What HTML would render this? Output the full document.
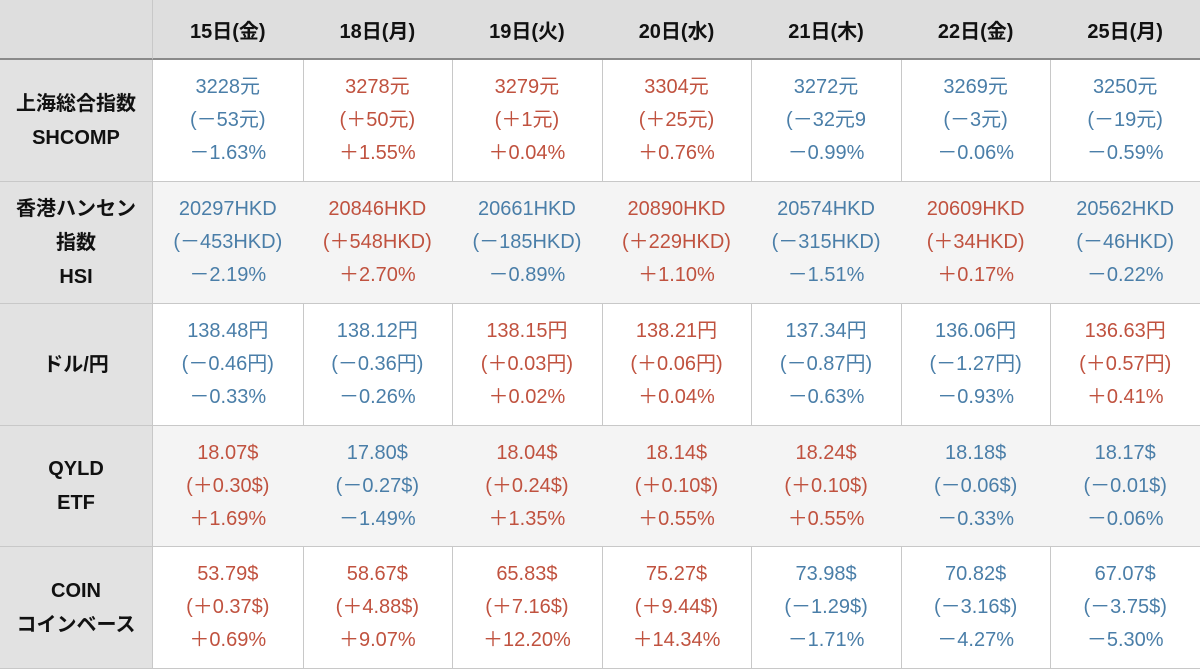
<!DOCTYPE html>
<html><head><meta charset="utf-8"><style>
body{margin:0;width:1200px;height:670px;background:#fff;overflow:hidden;font-family:"Liberation Sans","Noto Sans CJK JP",sans-serif}
#t{position:absolute;left:0;top:0;width:1200px;height:670px}
.c{position:absolute;box-sizing:border-box;border-right:1px solid #c8c8c8;border-bottom:1px solid #c8c8c8;display:flex;flex-direction:column;align-items:center;justify-content:center;text-align:center}
.h{background:#dedede;font-weight:bold;font-size:20px;color:#111;border-bottom:2px solid #8a8a8a}
.l{background:#e2e2e2;font-weight:bold;font-size:20px;color:#111;line-height:34px}
.d{font-size:20px;line-height:33px}
.alt{background:#f4f4f4}
.u{color:#4a7ea8}.r{color:#c0523f}
</style></head><body>
<div id="t"></div>
<script>
const dates=["15日(金)","18日(月)","19日(火)","20日(水)","21日(木)","22日(金)","25日(月)"];
const labels=[["上海総合指数","SHCOMP"],["香港ハンセン","指数","HSI"],["ドル/円"],["QYLD","ETF"],["COIN","コインベース"]];
const prices=[["3228元","3278元","3279元","3304元","3272元","3269元","3250元"],
["20297HKD","20846HKD","20661HKD","20890HKD","20574HKD","20609HKD","20562HKD"],
["138.48円","138.12円","138.15円","138.21円","137.34円","136.06円","136.63円"],
["18.07$","17.80$","18.04$","18.14$","18.24$","18.18$","18.17$"],
["53.79$","58.67$","65.83$","75.27$","73.98$","70.82$","67.07$"]];
const changes=[["(－53元)","(＋50元)","(＋1元)","(＋25元)","(－32元9","(－3元)","(－19元)"],
["(－453HKD)","(＋548HKD)","(－185HKD)","(＋229HKD)","(－315HKD)","(＋34HKD)","(－46HKD)"],
["(－0.46円)","(－0.36円)","(＋0.03円)","(＋0.06円)","(－0.87円)","(－1.27円)","(＋0.57円)"],
["(＋0.30$)","(－0.27$)","(＋0.24$)","(＋0.10$)","(＋0.10$)","(－0.06$)","(－0.01$)"],
["(＋0.37$)","(＋4.88$)","(＋7.16$)","(＋9.44$)","(－1.29$)","(－3.16$)","(－3.75$)"]];
const pcts=[["－1.63%","＋1.55%","＋0.04%","＋0.76%","－0.99%","－0.06%","－0.59%"],
["－2.19%","＋2.70%","－0.89%","＋1.10%","－1.51%","＋0.17%","－0.22%"],
["－0.33%","－0.26%","＋0.02%","＋0.04%","－0.63%","－0.93%","＋0.41%"],
["＋1.69%","－1.49%","＋1.35%","＋0.55%","＋0.55%","－0.33%","－0.06%"],
["＋0.69%","＋9.07%","＋12.20%","＋14.34%","－1.71%","－4.27%","－5.30%"]];
const T=document.getElementById('t');
const colX=i=>i===0?0:153+(i-1)*149.57;
const colW=i=>i===0?153:149.57;
const rowY=[0,60,182,304,426,547,669];
function cell(x,y,w,h,cls,html,name){const d=document.createElement('div');d.className='c '+cls;d.style.left=x+'px';d.style.top=y+'px';d.style.width=w+'px';d.style.height=h+'px';d.innerHTML=html;


T.appendChild(d);return d;}
cell(0,0,153,60,'h','','header-corner');
dates.forEach((s,i)=>cell(colX(i+1),0,colW(i+1)+1,60,'h',s,'date-header'));
labels.forEach((L,r)=>{
 const y=rowY[r+1],h=rowY[r+2]-y;
 cell(0,y,153,h,'l',L.join('<br>'),'row-label');
 for(let i=0;i<7;i++){
  const cls=pcts[r][i].startsWith('－')?'u':'r';
  cell(colX(i+1),y,colW(i+1)+1,h,'d '+cls+(r%2===1?' alt':''),prices[r][i]+'<br>'+changes[r][i]+'<br>'+pcts[r][i],'data-cell');
 }
});
</script>
</body></html>
